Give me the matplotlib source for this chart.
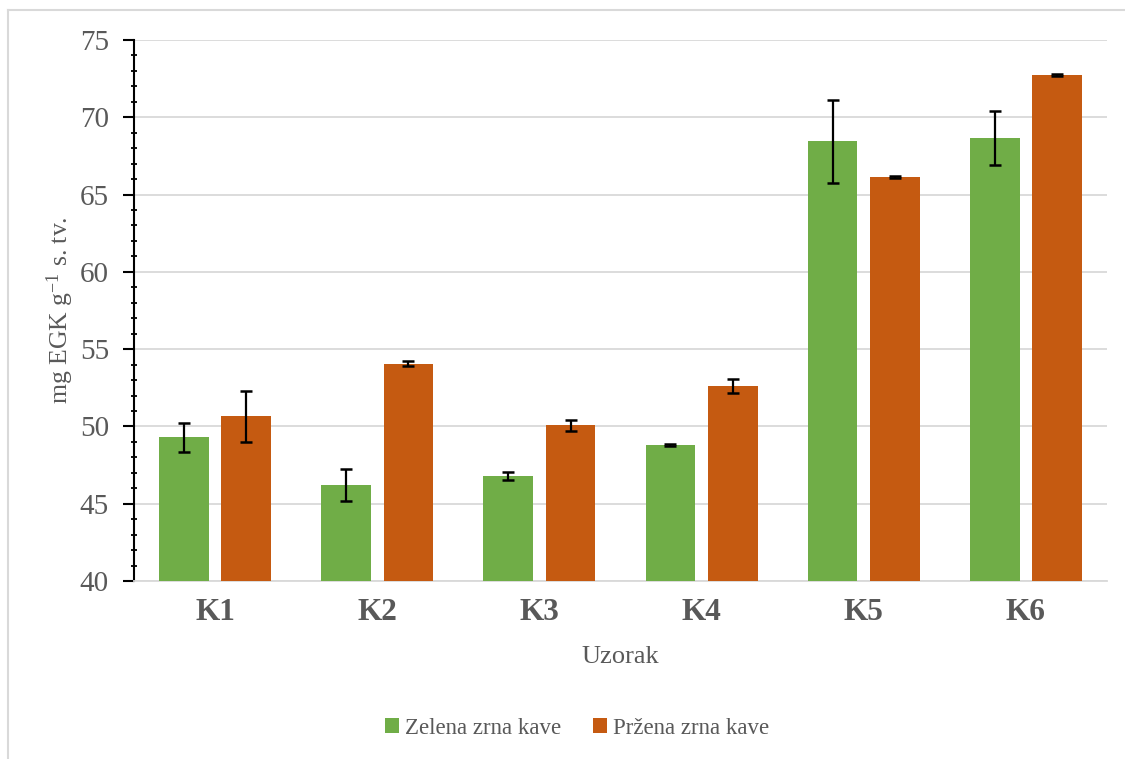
import matplotlib
matplotlib.use("Agg")
import matplotlib.pyplot as plt
import numpy as np
from matplotlib.patches import Patch
from matplotlib.lines import Line2D
from matplotlib.ticker import MultipleLocator

categories = ["K1", "K2", "K3", "K4", "K5", "K6"]
zelena = [49.3, 46.2, 46.8, 48.8, 68.45, 68.65]
zelena_err = [0.95, 1.05, 0.25, 0.04, 2.7, 1.75]
przena = [50.65, 54.07, 50.07, 52.63, 66.12, 72.75]
przena_err = [1.65, 0.15, 0.35, 0.47, 0.05, 0.06]
series_names = ["Zelena zrna kave", "Pržena zrna kave"]
ylabel_text = r"mg EGK g$^{\mathrm{-1}}$ s. tv."
xlabel_text = "Uzorak"

GREEN = "#70AD47"
ORANGE = "#C55A11"
TXT = "#595959"
GRID = "#D9D9D9"

plt.rcParams["font.family"] = ["Liberation Serif", "DejaVu Serif"]
plt.rcParams["mathtext.fontset"] = "custom"
plt.rcParams["mathtext.rm"] = "Liberation Serif"
plt.rcParams["mathtext.it"] = "Liberation Serif:italic"
plt.rcParams["mathtext.bf"] = "Liberation Serif:bold"

fig = plt.figure(figsize=(11.25, 7.59), dpi=100)
ax = fig.add_axes([134/1125, 1-581/759, (1107-134)/1125, (581-40)/759])

x = np.arange(len(categories))
w = 0.306
off = 0.192
ekw = dict(ecolor="black", elinewidth=1.6, capsize=4.3, capthick=1.8)
ax.bar(x - off, zelena, w, color=GREEN, yerr=zelena_err, error_kw=ekw, zorder=3)
ax.bar(x + off, przena, w, color=ORANGE, yerr=przena_err, error_kw=ekw, zorder=3)

ax.set_xlim(-0.5, len(categories) - 0.5)
ax.set_ylim(40, 75)
ax.yaxis.set_major_locator(MultipleLocator(5))
ax.yaxis.set_minor_locator(MultipleLocator(1))
ax.grid(axis="y", which="major", color=GRID, linewidth=1.3, zorder=0)
ax.set_axisbelow(True)

for s in ["top", "right"]:
    ax.spines[s].set_visible(False)
ax.spines["left"].set_color("black")
ax.spines["left"].set_linewidth(1.5)
ax.spines["bottom"].set_color(GRID)
ax.spines["bottom"].set_linewidth(1.3)

ax.tick_params(axis="y", which="major", length=8, width=1.5, color="black",
               labelsize=21, labelcolor=TXT, pad=10)
ax.tick_params(axis="y", which="minor", length=5, width=1.3, color="black",
               direction="inout")
ax.set_xticks(x)
ax.set_xticklabels(categories, fontsize=22.5, fontweight="bold", color=TXT)
ax.tick_params(axis="x", length=0, pad=12)

ax.set_xlabel(xlabel_text, fontsize=19, color=TXT, labelpad=14)
ax.set_ylabel(ylabel_text, fontsize=18.5, color=TXT, labelpad=3)

handles = [Patch(facecolor=GREEN, edgecolor="none"),
           Patch(facecolor=ORANGE, edgecolor="none")]
leg = fig.legend(handles, series_names, loc="center",
                 bbox_to_anchor=(577/1125, 1-728/759), ncol=2, frameon=False,
                 fontsize=16.5, handlelength=0.6, handleheight=0.6,
                 handletextpad=0.25, columnspacing=1.4)
for t in leg.get_texts():
    t.set_color(TXT)

# chart-area border (left and top visible)
fig.add_artist(Line2D([8/1125, 8/1125], [0, 1-10/759], transform=fig.transFigure,
                      color=GRID, linewidth=1.5))
fig.add_artist(Line2D([8/1125, 1], [1-10/759, 1-10/759], transform=fig.transFigure,
                      color=GRID, linewidth=1.5))

fig.savefig("out.png", dpi=100)
